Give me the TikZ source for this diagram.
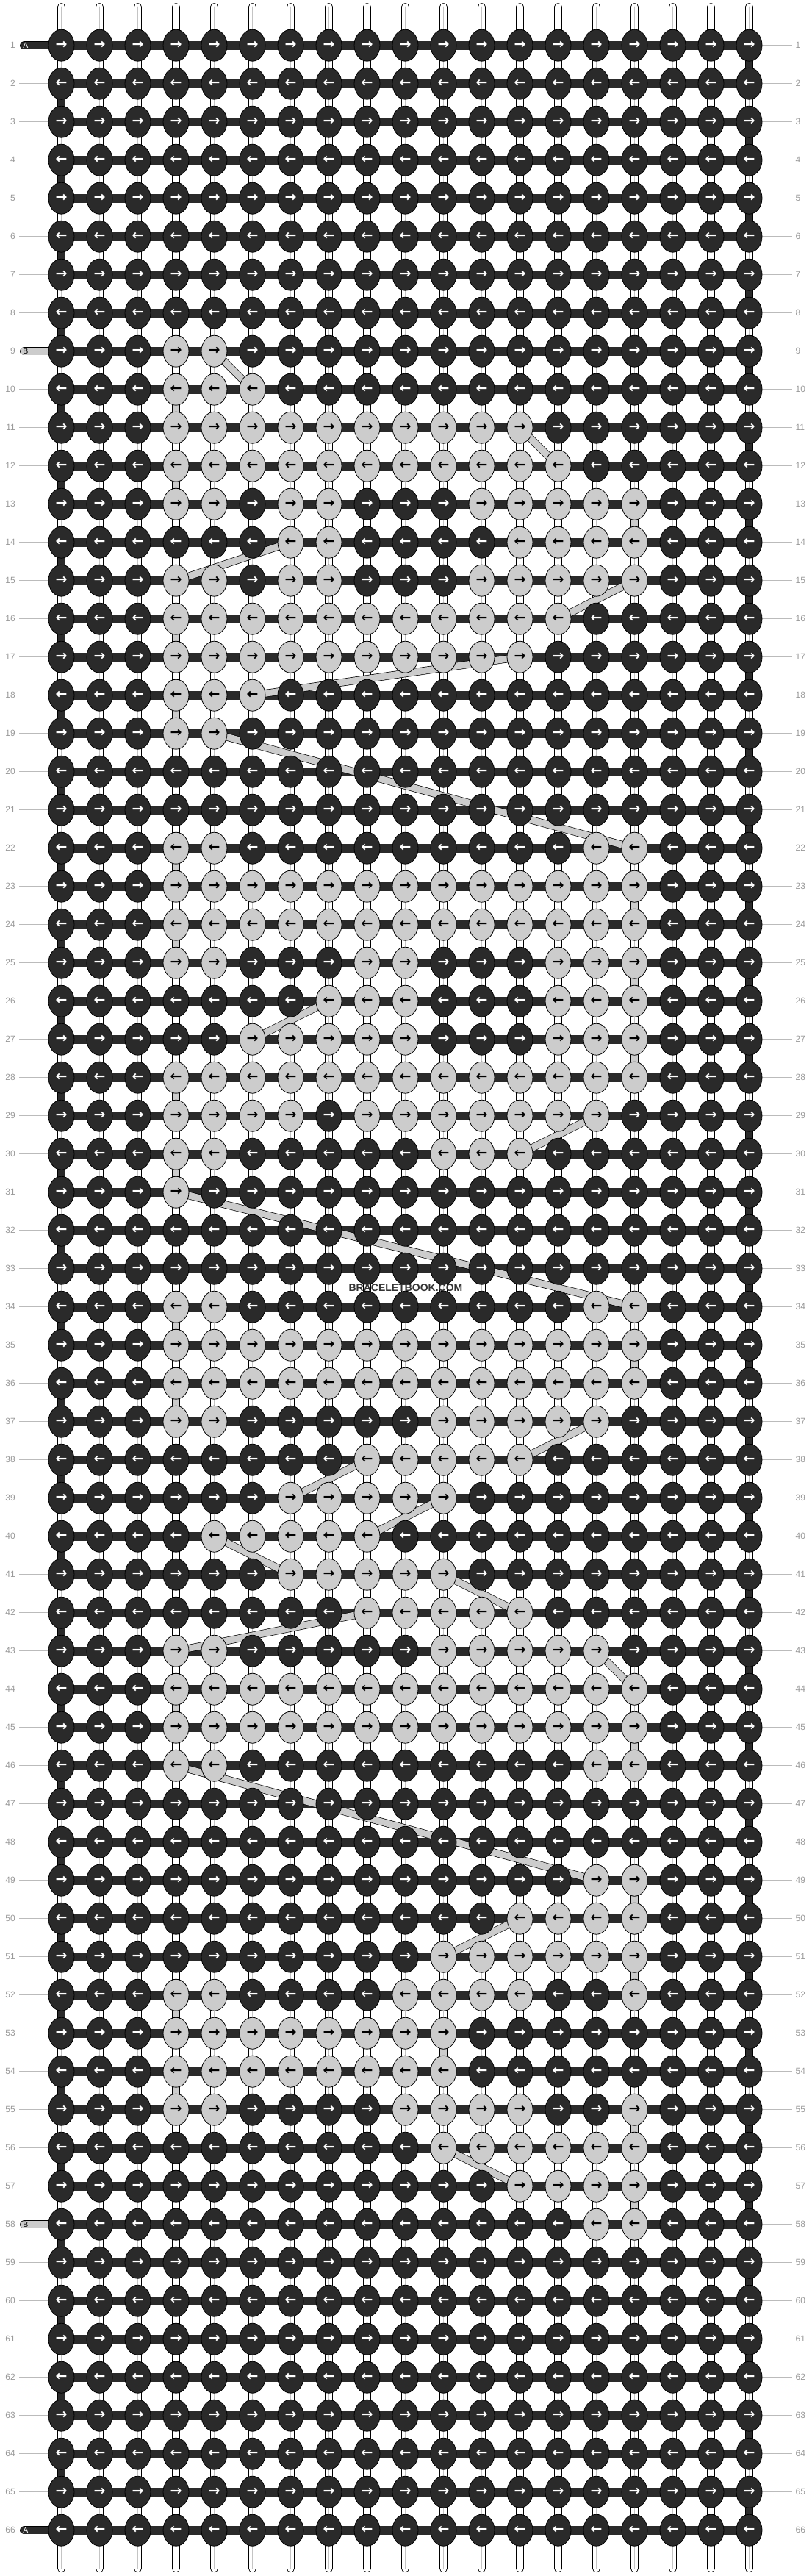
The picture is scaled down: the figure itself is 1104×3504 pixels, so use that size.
\documentclass[tikz,border=0pt]{standalone}
\usepackage{fontspec}
\setmainfont{Liberation Sans}
\newfontfamily\arrowfont{DejaVu Sans}
\usepackage{xcolor}
\usetikzlibrary{shapes.geometric}

\definecolor{knotdark}{HTML}{2A2A2A}
\definecolor{knotlight}{HTML}{CCCCCC}
\definecolor{rowgray}{HTML}{999999}
\definecolor{rowline}{HTML}{BBBBBB}
\definecolor{strandmid}{HTML}{C4C4C4}

\pgfdeclarelayer{strands}
\pgfdeclarelayer{bars}
\pgfdeclarelayer{links}
\pgfsetlayers{strands,bars,links,main}

\begin{document}
\begin{tikzpicture}[x=1pt, y=-1pt,
        strand/.style={draw=black, line width=0.7pt, double=white, double distance=9.2pt, line cap=round},
        strandcore/.style={draw=strandmid, line width=1.6pt, line cap=round},
        bar/.style={draw=knotdark, line width=11.7pt},
        guide/.style={draw=rowline, line width=0.9pt},
        tail/.style={draw=black, line width=0.7pt, double distance=9.6pt, line cap=round},
        turn/.style={draw=black, line width=0.7pt, double=knotdark, double distance=9pt},
        blink/.style={draw=black, line width=0.7pt, double=knotlight, double distance=9pt},
        watermark/.style={text=black!80, font=\bfseries\fontsize{14}{14}\selectfont, inner sep=0pt}]
    \useasboundingbox (0,0) rectangle (1104,3504);

    % light knots: row/columns
    \foreach \r/\cs in {9/{4,5}, 10/{4,5,6}, 11/{4,...,13}, 12/{4,...,14},
            13/{4,5,7,8,12,13,14,15,16}, 14/{7,8,13,14,15,16}, 15/{4,5,7,8,12,13,14,15,16},
            16/{4,...,14}, 17/{4,...,13}, 18/{4,5,6}, 19/{4,5},
            22/{4,5,15,16}, 23/{4,...,16}, 24/{4,...,16}, 25/{4,5,9,10,14,15,16},
            26/{8,9,10,14,15,16}, 27/{6,7,8,9,10,14,15,16}, 28/{4,...,16},
            29/{4,5,6,7,9,10,11,12,13,14,15}, 30/{4,5,11,12,13}, 31/{4},
            34/{4,5,15,16}, 35/{4,...,16}, 36/{4,...,16}, 37/{4,5,11,12,13,14,15},
            38/{9,...,13}, 39/{7,...,11}, 40/{5,...,9}, 41/{7,...,11}, 42/{9,...,13},
            43/{4,5,11,12,13,14,15}, 44/{4,...,16}, 45/{4,...,16}, 46/{4,5,15,16},
            49/{15,16}, 50/{13,...,16}, 51/{11,...,16}, 52/{4,5,10,11,12,13,16},
            53/{4,...,11}, 54/{4,...,11}, 55/{4,5,10,11,12,13,16},
            56/{11,...,16}, 57/{13,...,16}, 58/{15,16}}
        {\foreach \c in \cs {\expandafter\gdef\csname lt-\r-\c\endcsname{}}}

    \begin{scope}[every node/.style={ellipse, draw=black, line width=0.8pt,
            minimum width=35pt, minimum height=43pt, inner sep=0pt,
            font=\arrowfont\bfseries\fontsize{19}{19}\selectfont}]
        \foreach \r in {1,...,66} {
            \ifodd\r \def\karr{→}\else \def\karr{←}\fi
            \foreach \c in {1,...,19} {
                \ifcsname lt-\r-\c\endcsname
                    \def\kfill{knotlight}\def\ktext{black}%
                \else
                    \def\kfill{knotdark}\def\ktext{white}%
                \fi
                \node[fill=\kfill, text=\ktext] (k-\r-\c) at ({83.5+52*(\c-1)}, {61.7+52*(\r-1)}) {\karr};
            }
        }
    \end{scope}

    \begin{scope}[every node/.style={text=rowgray, font=\fontsize{12}{12}\selectfont, inner sep=0pt}]
        \foreach \r in {1,...,66} {
            \node[anchor=east] (ln-\r) at (21, {61.7+52*(\r-1)}) {\r};
            \node[anchor=west] (rn-\r) at (1082.5, {61.7+52*(\r-1)}) {\r};
            \coordinate (le-\r) at (26, {61.7+52*(\r-1)});
            \coordinate (re-\r) at (1078, {61.7+52*(\r-1)});
        }
    \end{scope}

    \begin{pgfonlayer}{strands}
        \foreach \c in {1,...,19} {
            \coordinate (top-\c) at ({83.5+52*(\c-1)}, 9.3);
            \coordinate (bot-\c) at ({83.5+52*(\c-1)}, 3493.7);
            \draw[strand] (top-\c) -- (bot-\c);
            \draw[strandcore] (top-\c) -- (bot-\c);
        }
    \end{pgfonlayer}

    \begin{pgfonlayer}{bars}
        \foreach \r in {1,...,66}
            \draw[bar] (k-\r-1.center) -- (k-\r-19.center);
        \foreach \lo/\hi in {2/8, 10/57, 59/65}
            \foreach \r in {\lo,...,\hi}
                \draw[guide] (le-\r) -- (k-\r-1);
        \foreach \r in {1,...,66}
            \draw[guide] (k-\r-19) -- (re-\r);
        \foreach \r/\tc in {1/knotdark, 9/knotlight, 58/knotlight, 66/knotdark} {
            \coordinate (tail-\r) at (32.5, {61.7+52*(\r-1)});
            \draw[tail, double=\tc] (tail-\r) -- (k-\r-1.center);
        }
    \end{pgfonlayer}

    \begin{pgfonlayer}{links}
        % turns of the working strand
        \foreach \r in {1,...,65} {
            \pgfmathtruncatemacro\rn{\r+1}
            \ifodd\r \def\tcol{19}\else \def\tcol{1}\fi
            \draw[turn] (k-\r-\tcol.center) -- (k-\rn-\tcol.center);
        }
        % strand B between rows
        \foreach \ra/\ca/\rb/\cb in {9/5/10/6, 10/4/11/4, 11/13/12/14, 12/4/13/4, 13/16/14/16,
                14/7/15/4, 15/16/16/14, 16/4/17/4, 17/13/18/6, 18/4/19/4, 19/5/22/16,
                22/4/23/4, 23/16/24/16, 24/4/25/4, 25/16/26/16, 26/8/27/6, 27/16/28/16,
                28/4/29/4, 29/15/30/13, 30/4/31/4, 31/4/34/16, 34/4/35/4, 35/16/36/16,
                36/4/37/4, 37/15/38/13, 38/9/39/7, 39/11/40/9, 40/5/41/7, 41/11/42/13,
                42/9/43/4, 43/15/44/16, 44/4/45/4, 45/16/46/16, 46/4/49/15, 49/16/50/16,
                50/13/51/11, 51/16/52/16, 52/4/53/4, 53/11/54/11, 54/4/55/4, 55/16/56/16,
                56/11/57/13, 57/16/58/16}
            \draw[blink] (k-\ra-\ca.center) -- (k-\rb-\cb.center);
    \end{pgfonlayer}

    \begin{scope}[every node/.style={font=\fontsize{10.5}{10.5}\selectfont, inner sep=0pt}]
        \node[text=white] (tl-1) at (35, 61.7) {A};
        \node[text=black] (tl-9) at (35, 477.7) {B};
        \node[text=black] (tl-58) at (35, 3025.7) {B};
        \node[text=white] (tl-66) at (35, 3441.7) {A};
    \end{scope}

    \node[watermark] (wm) at (552, 1752) {BRACELETBOOK.COM};
\end{tikzpicture}
\end{document}
